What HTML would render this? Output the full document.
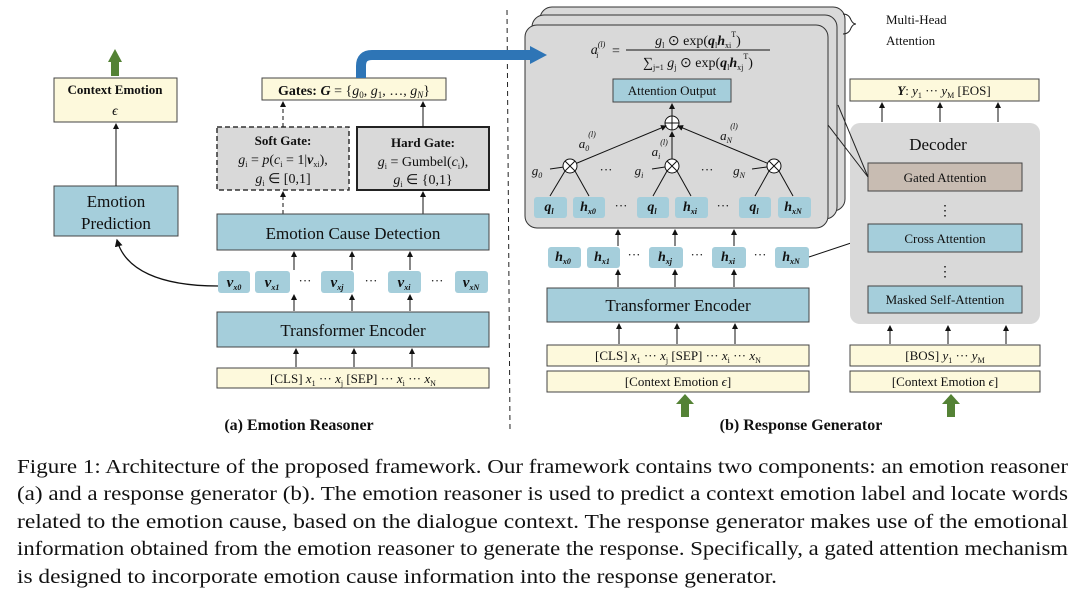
<!DOCTYPE html>
<html><head><meta charset="utf-8"><style>
html,body{margin:0;padding:0;background:#fff;width:1080px;height:595px;overflow:hidden}
svg{display:block}
text{font-family:"Liberation Serif",serif;fill:#111}
</style></head><body>
<svg width="1080" height="595" viewBox="0 0 1080 595" xmlns="http://www.w3.org/2000/svg">
<defs>
<marker id="ah" markerWidth="6" markerHeight="6" refX="5" refY="3" orient="auto"><path d="M0,0 L6,3 L0,6 z" fill="#111"/></marker>
</defs>
<g stroke="#444" stroke-width="1">
<!-- LEFT -->
<polygon points="108,62 115,49 122,62 119,62 119,76 111,76 111,62" fill="#548235" stroke="none"/>
<rect x="54" y="78" width="123" height="44" fill="#fdf9dc"/>
<rect x="54" y="186" width="124" height="50" fill="#a5cedb"/>
<line x1="116" y1="186" x2="116" y2="124" stroke="#111" marker-end="url(#ah)"/>
<path d="M218,286 C160,286 125,270 117,240" fill="none" stroke="#111" stroke-width="1.3" marker-end="url(#ah)"/>
<rect x="262" y="78" width="184" height="22" fill="#fdf9dc"/>
<rect x="217" y="127" width="132" height="63" fill="#d9d9d9" stroke="#333" stroke-width="1.5" stroke-dasharray="5,3"/>
<rect x="357" y="127" width="132" height="63" fill="#d9d9d9" stroke="#222" stroke-width="2"/>
<line x1="283" y1="214" x2="283" y2="192" stroke="#111" stroke-dasharray="4,3" marker-end="url(#ah)"/>
<line x1="283" y1="127" x2="283" y2="102" stroke="#111" stroke-dasharray="4,3" marker-end="url(#ah)"/>
<line x1="423" y1="214" x2="423" y2="192" stroke="#111" marker-end="url(#ah)"/>
<line x1="423" y1="127" x2="423" y2="102" stroke="#111" marker-end="url(#ah)"/>
<rect x="217" y="214" width="272" height="36" fill="#a5cedb"/>
<rect x="217" y="312" width="272" height="35" fill="#a5cedb"/>
<rect x="217" y="368" width="272" height="20" fill="#fdf9dc"/>
<g stroke="none" fill="#a5cedb">
<rect x="218" y="271" width="32" height="22" rx="3"/><rect x="255" y="271" width="35" height="22" rx="3"/>
<rect x="321" y="271" width="33" height="22" rx="3"/><rect x="388" y="271" width="33" height="22" rx="3"/><rect x="455" y="271" width="33" height="22" rx="3"/>
</g>
<g stroke="#111" marker-end="url(#ah)">
<line x1="294" y1="270" x2="294" y2="252"/><line x1="352" y1="270" x2="352" y2="252"/><line x1="410" y1="270" x2="410" y2="252"/>
<line x1="294" y1="311" x2="294" y2="295"/><line x1="352" y1="311" x2="352" y2="295"/><line x1="410" y1="311" x2="410" y2="295"/>
<line x1="296" y1="367" x2="296" y2="349"/><line x1="354" y1="367" x2="354" y2="349"/><line x1="412" y1="367" x2="412" y2="349"/>
</g>
<line x1="507" y1="10" x2="510" y2="430" stroke="#222" stroke-dasharray="5,4"/>
<!-- RIGHT stacked -->
<rect x="540" y="7" width="305" height="204" rx="12" fill="#d9d9d9" stroke="#333"/>
<rect x="532" y="15" width="305" height="204" rx="12" fill="#d9d9d9" stroke="#333"/>
<rect x="525" y="25" width="303" height="203" rx="12" fill="#d9d9d9" stroke="#333"/>
<path d="M843,14 q6,0 8,6 q2,4 5,4 q-3,0 -5,4 q-2,6 -8,6" fill="none" stroke="#222"/>
<path d="M361,78 L361,66 Q361,55 372,55 L532,55" fill="none" stroke="#2e75b6" stroke-width="10"/>
<polygon points="530,46 547,55 530,64" fill="#2e75b6" stroke="none"/>
<line x1="626" y1="50" x2="770" y2="50" stroke="#111"/>
<rect x="613" y="79" width="118" height="23" fill="#a5cedb"/>
<circle cx="672" cy="123" r="7" fill="#fff" stroke="#111"/>
<path d="M665,123 h14 M672,116 v14" stroke="#111"/>
<line x1="672" y1="116" x2="672" y2="104" stroke="#111" marker-end="url(#ah)"/>
<g stroke="#111">
<line x1="570" y1="166" x2="666" y2="126" marker-end="url(#ah)"/>
<line x1="672" y1="159" x2="672" y2="132" marker-end="url(#ah)"/>
<line x1="774" y1="166" x2="678" y2="126" marker-end="url(#ah)"/>
<line x1="550" y1="169" x2="564" y2="167"/><line x1="652" y1="169" x2="665" y2="167"/><line x1="752" y1="169" x2="767" y2="167"/>
<line x1="565" y1="171" x2="550" y2="196"/><line x1="575" y1="171" x2="589" y2="196"/>
<line x1="667" y1="171" x2="653" y2="196"/><line x1="677" y1="171" x2="691" y2="196"/>
<line x1="769" y1="171" x2="755" y2="196"/><line x1="779" y1="171" x2="793" y2="196"/>
</g>
<g fill="#fff" stroke="#111">
<circle cx="570" cy="166" r="7"/><circle cx="672" cy="166" r="7"/><circle cx="774" cy="166" r="7"/>
</g>
<g stroke="#111"><path d="M565,161 l10,10 M575,161 l-10,10 M667,161 l10,10 M677,161 l-10,10 M769,161 l10,10 M779,161 l-10,10"/></g>
<g stroke="none" fill="#a5cedb">
<rect x="534" y="197" width="33" height="21" rx="3"/><rect x="573" y="197" width="32" height="21" rx="3"/>
<rect x="637" y="197" width="32" height="21" rx="3"/><rect x="675" y="197" width="33" height="21" rx="3"/>
<rect x="739" y="197" width="32" height="21" rx="3"/><rect x="778" y="197" width="33" height="21" rx="3"/>
<rect x="548" y="247" width="33" height="21" rx="3"/><rect x="587" y="247" width="33" height="21" rx="3"/>
<rect x="649" y="247" width="34" height="21" rx="3"/><rect x="712" y="247" width="34" height="21" rx="3"/>
<rect x="775" y="247" width="34" height="21" rx="3"/>
</g>
<rect x="547" y="288" width="262" height="34" fill="#a5cedb"/>
<rect x="547" y="345" width="262" height="21" fill="#fdf9dc"/>
<rect x="547" y="371" width="262" height="21" fill="#fdf9dc"/>
<g stroke="#111" marker-end="url(#ah)">
<line x1="618" y1="246" x2="618" y2="230"/><line x1="675" y1="246" x2="675" y2="230"/><line x1="734" y1="246" x2="734" y2="230"/>
<line x1="618" y1="287" x2="618" y2="270"/><line x1="675" y1="287" x2="675" y2="270"/><line x1="734" y1="287" x2="734" y2="270"/>
<line x1="619" y1="344" x2="619" y2="324"/><line x1="677" y1="344" x2="677" y2="324"/><line x1="735" y1="344" x2="735" y2="324"/>
<line x1="809" y1="257" x2="866" y2="238"/>
</g>
<polygon points="676,404 685,394 694,404 689,404 689,417 681,417 681,404" fill="#548235" stroke="none"/>
<polygon points="942,404 951,394 960,404 955,404 955,417 947,417 947,404" fill="#548235" stroke="none"/>
<!-- decoder -->
<rect x="850" y="79" width="189" height="22" fill="#fdf9dc"/>
<rect x="850" y="123" width="190" height="201" rx="10" fill="#d9d9d9" stroke="none"/>
<rect x="868" y="163" width="154" height="28" fill="#c8bcb2"/>
<rect x="868" y="224" width="154" height="28" fill="#a5cedb"/>
<rect x="868" y="286" width="154" height="27" fill="#a5cedb"/>
<line x1="828" y1="125" x2="868" y2="177" stroke="#222"/>
<line x1="838" y1="105" x2="868" y2="177" stroke="#222"/>
<rect x="850" y="345" width="190" height="21" fill="#fdf9dc"/>
<rect x="850" y="371" width="190" height="21" fill="#fdf9dc"/>
<g stroke="#111" marker-end="url(#ah)">
<line x1="882" y1="122" x2="882" y2="103"/><line x1="940" y1="122" x2="940" y2="103"/><line x1="998" y1="122" x2="998" y2="103"/>
<line x1="890" y1="344" x2="890" y2="326"/><line x1="948" y1="344" x2="948" y2="326"/><line x1="1006" y1="344" x2="1006" y2="326"/>
</g>
</g>
<!-- TEXT -->
<g text-anchor="middle">
<text x="115" y="94" font-size="13" font-weight="bold">Context Emotion</text>
<text x="115" y="115" font-size="14" font-style="italic">ϵ</text>
<text x="116" y="207" font-size="17">Emotion</text>
<text x="116" y="229" font-size="17">Prediction</text>
<text x="354" y="95" font-size="14"><tspan font-weight="bold">Gates: </tspan><tspan font-style="italic" font-weight="bold">G</tspan> = {<tspan font-style="italic">g</tspan><tspan font-size="9" dy="3">0</tspan><tspan dy="-3">, </tspan><tspan font-style="italic">g</tspan><tspan font-size="9" dy="3">1</tspan><tspan dy="-3">, …, </tspan><tspan font-style="italic">g</tspan><tspan font-size="9" font-style="italic" dy="3">N</tspan><tspan dy="-3">}</tspan></text>
<text x="283" y="145" font-size="13" font-weight="bold">Soft Gate:</text>
<text x="283" y="164" font-size="14"><tspan font-style="italic">g</tspan><tspan font-size="8" dy="3">i</tspan><tspan dy="-3"> = </tspan><tspan font-style="italic">p</tspan>(<tspan font-style="italic">c</tspan><tspan font-size="8" dy="3">i</tspan><tspan dy="-3"> = 1|</tspan><tspan font-weight="bold" font-style="italic">v</tspan><tspan font-size="8" dy="3">xi</tspan><tspan dy="-3">),</tspan></text>
<text x="283" y="183" font-size="14"><tspan font-style="italic">g</tspan><tspan font-size="8" dy="3">i</tspan><tspan dy="-3"> ∈ [0,1]</tspan></text>
<text x="423" y="147" font-size="13" font-weight="bold">Hard Gate:</text>
<text x="423" y="166" font-size="14"><tspan font-style="italic">g</tspan><tspan font-size="8" dy="3">i</tspan><tspan dy="-3"> = Gumbel(</tspan><tspan font-style="italic">c</tspan><tspan font-size="8" dy="3">i</tspan><tspan dy="-3">),</tspan></text>
<text x="423" y="184" font-size="14"><tspan font-style="italic">g</tspan><tspan font-size="8" dy="3">i</tspan><tspan dy="-3"> ∈ {0,1}</tspan></text>
<text x="353" y="239" font-size="17">Emotion Cause Detection</text>
<text x="353" y="336" font-size="17">Transformer Encoder</text>
<text x="353" y="383" font-size="13">[CLS]  <tspan font-style="italic">x</tspan><tspan font-size="8" dy="3">1</tspan><tspan dy="-3">  ···   </tspan><tspan font-style="italic">x</tspan><tspan font-size="8" dy="3">j</tspan><tspan dy="-3">  [SEP]  ···  </tspan><tspan font-style="italic">x</tspan><tspan font-size="8" dy="3">i</tspan><tspan dy="-3">  ···   </tspan><tspan font-style="italic">x</tspan><tspan font-size="8" dy="3">N</tspan></text>
<text x="299" y="430" font-size="16" font-weight="bold">(a) Emotion Reasoner</text>
<g font-size="15" font-weight="bold" font-style="italic">
<text x="234" y="287">v<tspan font-size="8" dy="3">x0</tspan></text>
<text x="272" y="287">v<tspan font-size="8" dy="3">x1</tspan></text>
<text x="337" y="287">v<tspan font-size="8" dy="3">xj</tspan></text>
<text x="404" y="287">v<tspan font-size="8" dy="3">xi</tspan></text>
<text x="471" y="287">v<tspan font-size="8" dy="3">xN</tspan></text>
</g>
<g font-size="13"><text x="305" y="285">···</text><text x="371" y="285">···</text><text x="437" y="285">···</text></g>
<text x="886" y="24" font-size="13" text-anchor="start">Multi-Head</text>
<text x="886" y="45" font-size="13" text-anchor="start">Attention</text>
<text x="598" y="54" font-size="14" font-style="italic">a<tspan font-size="8" dy="-7">(l)</tspan><tspan font-size="8" dx="-9" dy="11">i</tspan></text>
<text x="616" y="55" font-size="14">=</text>
<text x="698" y="45" font-size="14"><tspan font-style="italic">g</tspan><tspan font-size="8" dy="3">l</tspan><tspan dy="-3"> ⊙ exp(</tspan><tspan font-weight="bold" font-style="italic">q</tspan><tspan font-size="8" dy="3">l</tspan><tspan font-weight="bold" font-style="italic" dy="-3">h</tspan><tspan font-size="8" dy="3">xi</tspan><tspan font-size="8" dy="-11">T</tspan><tspan dy="8">)</tspan></text>
<text x="698" y="67" font-size="14">∑<tspan font-size="8" dy="3">j=1</tspan><tspan dy="-3"> </tspan><tspan font-style="italic">g</tspan><tspan font-size="8" dy="3">j</tspan><tspan dy="-3"> ⊙ exp(</tspan><tspan font-weight="bold" font-style="italic">q</tspan><tspan font-size="8" dy="3">l</tspan><tspan font-weight="bold" font-style="italic" dy="-3">h</tspan><tspan font-size="8" dy="3">xj</tspan><tspan font-size="8" dy="-11">T</tspan><tspan dy="8">)</tspan></text>
<text x="672" y="95" font-size="13">Attention Output</text>
<g font-size="13" font-style="italic">
<text x="584" y="148">a<tspan font-size="8" dy="3">0</tspan></text><text x="592" y="137" font-size="8">(l)</text>
<text x="656" y="156">a<tspan font-size="8" dy="3">i</tspan></text><text x="664" y="145" font-size="8">(l)</text>
<text x="726" y="140">a<tspan font-size="8" dy="3">N</tspan></text><text x="734" y="129" font-size="8">(l)</text>
<text x="537" y="175">g<tspan font-size="8" dy="3">0</tspan></text>
<text x="639" y="175">g<tspan font-size="8" dy="3">i</tspan></text>
<text x="739" y="175">g<tspan font-size="8" dy="3">N</tspan></text>
</g>
<g font-size="13"><text x="606" y="174">···</text><text x="707" y="174">···</text></g>
<g font-size="14" font-weight="bold" font-style="italic">
<text x="549" y="211">q<tspan font-size="8" dy="3">l</tspan></text>
<text x="588" y="211">h<tspan font-size="8" dy="3">x0</tspan></text>
<text x="652" y="211">q<tspan font-size="8" dy="3">l</tspan></text>
<text x="690" y="211">h<tspan font-size="8" dy="3">xi</tspan></text>
<text x="754" y="211">q<tspan font-size="8" dy="3">l</tspan></text>
<text x="793" y="211">h<tspan font-size="8" dy="3">xN</tspan></text>
<text x="563" y="261">h<tspan font-size="8" dy="3">x0</tspan></text>
<text x="602" y="261">h<tspan font-size="8" dy="3">x1</tspan></text>
<text x="665" y="261">h<tspan font-size="8" dy="3">xj</tspan></text>
<text x="728" y="261">h<tspan font-size="8" dy="3">xi</tspan></text>
<text x="791" y="261">h<tspan font-size="8" dy="3">xN</tspan></text>
</g>
<g font-size="13"><text x="621" y="210">···</text><text x="723" y="210">···</text>
<text x="634" y="259">···</text><text x="697" y="259">···</text><text x="760" y="259">···</text></g>
<text x="678" y="311" font-size="17">Transformer Encoder</text>
<text x="678" y="360" font-size="13">[CLS]  <tspan font-style="italic">x</tspan><tspan font-size="8" dy="3">1</tspan><tspan dy="-3">  ···   </tspan><tspan font-style="italic">x</tspan><tspan font-size="8" dy="3">j</tspan><tspan dy="-3">  [SEP]  ···  </tspan><tspan font-style="italic">x</tspan><tspan font-size="8" dy="3">i</tspan><tspan dy="-3">  ···   </tspan><tspan font-style="italic">x</tspan><tspan font-size="8" dy="3">N</tspan></text>
<text x="678" y="386" font-size="13">[Context Emotion <tspan font-style="italic">ϵ</tspan>]</text>
<text x="801" y="430" font-size="16" font-weight="bold">(b) Response Generator</text>
<text x="944" y="95" font-size="13"><tspan font-weight="bold" font-style="italic">Y</tspan>:  <tspan font-style="italic">y</tspan><tspan font-size="8" dy="3">1</tspan><tspan dy="-3">   ···   </tspan><tspan font-style="italic">y</tspan><tspan font-size="8" dy="3">M</tspan><tspan dy="-3">  [EOS]</tspan></text>
<text x="938" y="150" font-size="17">Decoder</text>
<text x="945" y="182" font-size="13">Gated Attention</text>
<text x="945" y="243" font-size="13">Cross Attention</text>
<text x="945" y="304" font-size="13">Masked Self-Attention</text>
<text x="945" y="215" font-size="14">⋮</text>
<text x="945" y="276" font-size="14">⋮</text>
<text x="945" y="360" font-size="13">[BOS]  <tspan font-style="italic">y</tspan><tspan font-size="8" dy="3">1</tspan><tspan dy="-3">   ···   </tspan><tspan font-style="italic">y</tspan><tspan font-size="8" dy="3">M</tspan></text>
<text x="945" y="386" font-size="13">[Context Emotion <tspan font-style="italic">ϵ</tspan>]</text>
</g>
<g font-size="19.5">
<text x="17" y="473" textLength="1051" lengthAdjust="spacingAndGlyphs">Figure 1: Architecture of the proposed framework. Our framework contains two components: an emotion reasoner</text>
<text x="17" y="500" textLength="1051" lengthAdjust="spacingAndGlyphs">(a) and a response generator (b). The emotion reasoner is used to predict a context emotion label and locate words</text>
<text x="17" y="528" textLength="1051" lengthAdjust="spacingAndGlyphs">related to the emotion cause, based on the dialogue context.  The response generator makes use of the emotional</text>
<text x="17" y="555" textLength="1051" lengthAdjust="spacingAndGlyphs">information obtained from the emotion reasoner to generate the response. Specifically, a gated attention mechanism</text>
<text x="17" y="583" textLength="760" lengthAdjust="spacingAndGlyphs">is designed to incorporate emotion cause information into the response generator.</text>
</g>
</svg>
</body></html>
